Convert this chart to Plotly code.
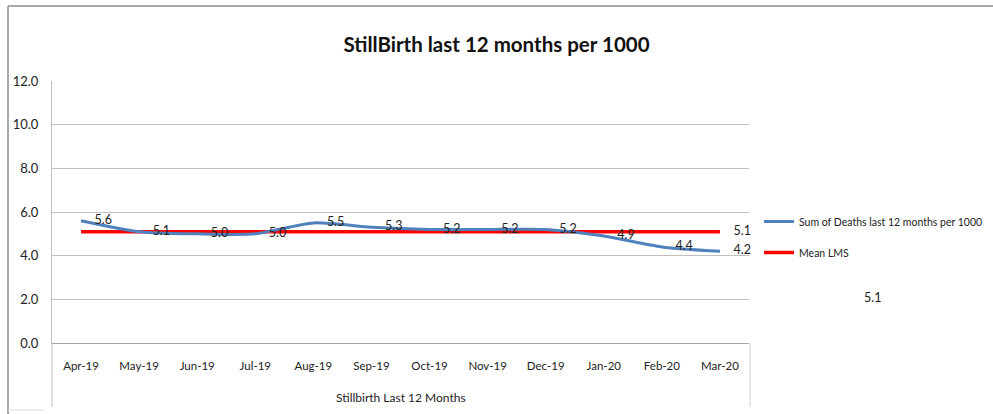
import plotly.graph_objects as go

months = ["Apr-19", "May-19", "Jun-19", "Jul-19", "Aug-19", "Sep-19",
          "Oct-19", "Nov-19", "Dec-19", "Jan-20", "Feb-20", "Mar-20"]
deaths_per_1000 = [5.6, 5.1, 5.0, 5.0, 5.5, 5.3, 5.2, 5.2, 5.2, 4.9, 4.4, 4.2]
mean_lms = [5.1, 5.1, 5.1, 5.1, 5.1, 5.1, 5.1, 5.1, 5.1, 5.1, 5.1, 5.1]
mean_label = "5.1"
y_ticks = [0, 2, 4, 6, 8, 10, 12]

FONT = "Lato, 'Open Sans', sans-serif"

# plot area in pixels
L, R, T, B = 52, 749, 81, 343
W, H = 993, 414
PW, PH = R - L, B - T


def px(x):
    return (x - L) / PW


def py(y):
    return (B - y) / PH


fig = go.Figure()

fig.add_trace(go.Scatter(
    x=months, y=mean_lms, name="Mean LMS", mode="lines+markers+text",
    line=dict(color="#FF0000", width=3.5),
    marker=dict(size=20, color="rgba(0,0,0,0)"),
    text=[""] * (len(months) - 1) + [mean_label],
    textposition="middle right", cliponaxis=False,
    textfont=dict(family=FONT, size=12.5, color="#222222"),
    legendgroup="b", legendrank=2, hoverinfo="skip",
))

fig.add_trace(go.Scatter(
    x=months, y=deaths_per_1000, name="Sum of Deaths last 12 months per 1000",
    mode="lines+markers+text",
    line=dict(color="#4F81BD", width=3, shape="spline", smoothing=0.7),
    marker=dict(size=20, color="rgba(0,0,0,0)"),
    text=[f"{v:.1f}" for v in deaths_per_1000],
    textposition="middle right", cliponaxis=False,
    textfont=dict(family=FONT, size=12.5, color="#222222"),
    legendgroup="a", legendrank=1, hoverinfo="skip",
))

shapes = [
    # outer chart frame
    dict(type="line", xref="paper", yref="paper", x0=px(8), x1=px(993), y0=py(6), y1=py(6),
         line=dict(color="#8c8c8c", width=1.5), layer="above"),
    dict(type="line", xref="paper", yref="paper", x0=px(8), x1=px(8), y0=py(6), y1=py(414),
         line=dict(color="#8c8c8c", width=1.5), layer="above"),
    dict(type="line", xref="paper", yref="paper", x0=px(8), x1=px(44), y0=py(410), y1=py(410),
         line=dict(color="#dddddd", width=1)),
    # box under the plot area
    dict(type="line", xref="paper", yref="paper", x0=0, x1=0, y0=0, y1=py(407),
         line=dict(color="#bfbfbf", width=1)),
    dict(type="line", xref="paper", yref="paper", x0=px(750), x1=px(750), y0=0, y1=py(407),
         line=dict(color="#d0d0d0", width=1)),
]

annotations = [
    dict(text="Stillbirth Last 12 Months", xref="paper", yref="paper",
         x=0.5, y=py(397), xanchor="center", yanchor="middle", showarrow=False,
         font=dict(family=FONT, size=12, color="#222222")),
    dict(text=mean_label, xref="paper", yref="paper",
         x=px(872), y=py(297), xanchor="center", yanchor="middle", showarrow=False,
         font=dict(family=FONT, size=12.5, color="#222222")),
]

fig.update_layout(
    width=W, height=H,
    margin=dict(l=L, r=W - R, t=T, b=H - B, autoexpand=False),
    paper_bgcolor="white", plot_bgcolor="white",
    font=dict(family=FONT, size=12, color="#222222"),
    title=dict(text="<b>StillBirth last 12 months per 1000</b>",
               x=0.5, xref="container", xanchor="center",
               y=1 - 45 / H, yref="container", yanchor="middle",
               font=dict(family=FONT, size=20.5, color="#111111")),
    showlegend=True,
    legend=dict(x=px(759), y=py(207), xanchor="left", yanchor="top",
                font=dict(family=FONT, size=10.5, color="#222222"),
                tracegroupgap=12, itemwidth=30, bgcolor="rgba(0,0,0,0)"),
    shapes=shapes,
    annotations=annotations,
    hovermode=False,
)

fig.update_xaxes(
    type="category", categoryorder="array", categoryarray=months,
    showgrid=False, showline=True, linecolor="#a6a6a6", linewidth=1,
    ticks="", ticklabelstandoff=12,
    tickfont=dict(family=FONT, size=11.5, color="#222222"),
    range=[-0.5, len(months) - 0.5], fixedrange=True,
)

fig.update_yaxes(
    range=[0, 12], tickvals=y_ticks, tickformat=".1f",
    showgrid=True, gridcolor="#bfbfbf", gridwidth=1,
    showline=True, linecolor="#bfbfbf", linewidth=1,
    zeroline=False, ticks="", ticklabelstandoff=10,
    tickfont=dict(family=FONT, size=13, color="#222222"),
    fixedrange=True,
)

fig.write_html("out.html", config={"displayModeBar": False},
               post_script="document.body.style.margin='0';")
